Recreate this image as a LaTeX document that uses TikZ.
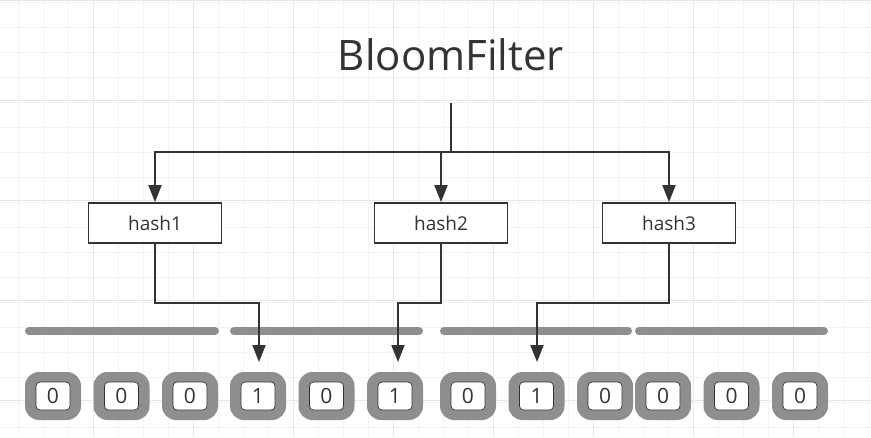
\documentclass[tikz,border=0pt]{standalone}
\usepackage{fontspec}
\setmainfont{Open Sans}
\usetikzlibrary{arrows.meta}
\definecolor{ink}{HTML}{333333}
\definecolor{barg}{HTML}{8E8E8E}
\definecolor{gridminor}{HTML}{F3F3F3}
\definecolor{gridmajor}{HTML}{E8E8E8}
\tikzset{
  hashbox/.style={draw=ink, line width=1.6pt, fill=white, minimum width=133pt, minimum height=40pt, inner sep=0pt, font=\fontsize{19}{19}\selectfont, text=ink},
  cellouter/.style={fill=barg, minimum width=56pt, minimum height=48pt, rounded corners=14pt, inner sep=0pt},
  cellinner/.style={fill=white, draw=ink, line width=0.7pt, minimum width=34pt, minimum height=28pt, rounded corners=4pt, inner sep=0pt, font=\fontsize{21}{21}\selectfont, text=ink},
  arr/.style={draw=ink, line width=1.8pt, -{Triangle[length=17pt,width=13pt]}},
  conn/.style={draw=ink, line width=1.8pt},
  bar/.style={draw=barg, line width=8pt, line cap=round},
}
\begin{document}
\begin{tikzpicture}[x=1pt,y=-1pt]
\useasboundingbox (0,0) rectangle (871,437);
\fill[white] (0,0) rectangle (871,437);
% grid
\foreach \x in {18,43,...,868} \draw[gridminor, line width=1pt] (\x,0) -- (\x,437);
\foreach \y in {2,27,...,437} \draw[gridminor, line width=1pt] (0,\y) -- (871,\y);
\foreach \x in {93,193,...,793} \draw[gridmajor, line width=1pt] (\x,0) -- (\x,437);
\foreach \y in {0,100,200,300,400} \draw[gridmajor, line width=1pt] (0,\y) -- (871,\y);
% title
\node[font=\fontsize{42}{42}\selectfont, text=ink, inner sep=0pt] (title) at (451,55) {BloomFilter};
\coordinate (top) at (451,103);
\coordinate (split) at (451,152);
% hash boxes
\node[hashbox] (h1) at (155,223) {hash1};
\node[hashbox] (h2) at (441,223) {hash2};
\node[hashbox] (h3) at (669,223) {hash3};
\draw[conn] (top) -- (split);
\draw[arr] (split) -| (h1.north);
\draw[arr] (split) -| (h3.north);
\draw[arr] (split -| h2.north) -- (h2.north);
% bars
\draw[bar] (29,331) -- (215,331);
\draw[bar] (234,331) -- (419,331);
\draw[bar] (444,331) -- (628,331);
\draw[bar] (639,331) -- (824,331);
% cells
\foreach \i/\x/\v in {1/53/0,2/121.5/0,3/190/0,4/258/1,5/326.5/0,6/395/1,7/468/0,8/536.5/1,9/605/0,10/663/0,11/731.5/0,12/800/0} {
  \node[cellouter] (c\i) at (\x,396) {};
  \node[cellinner] (d\i) at (c\i) {\v};
}
% hash to cells
\coordinate (t1) at (259,362);
\coordinate (t2) at (398,362);
\coordinate (t3) at (537,362);
\draw[arr] (h1.south) |- (0,303 -| t1) -- (t1);
\draw[arr] (h2.south) |- (0,303 -| t2) -- (t2);
\draw[arr] (h3.south) |- (0,303 -| t3) -- (t3);
\end{tikzpicture}
\end{document}
